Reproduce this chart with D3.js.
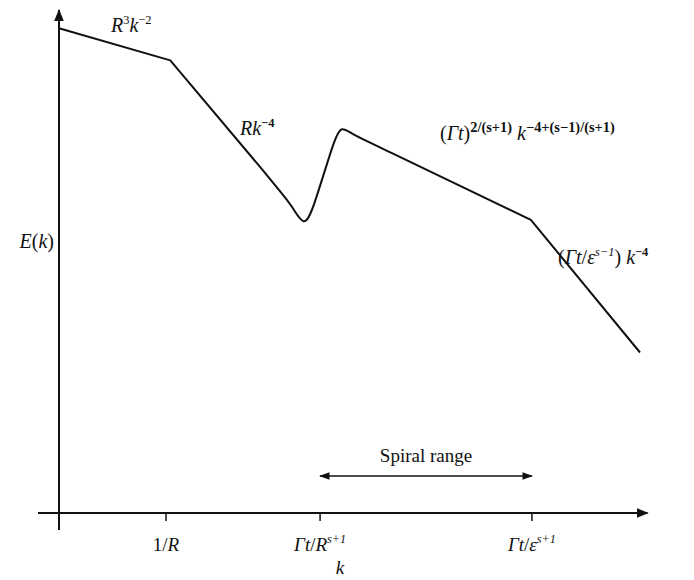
<!DOCTYPE html>
<html>
<head>
<meta charset="utf-8">
<script src="https://cdn.jsdelivr.net/npm/d3@7"></script>
<style>
  body { margin: 0; background: #fff; }
  svg text { font-family: "Liberation Serif", "DejaVu Serif", serif; fill: #111; }
</style>
</head>
<body>
<div id="chart"></div>
<script>
// schematic spectrum, in log units (one unit per decade-ish)
const highK = [0, 1.04, 1.879];
const highE = [4.53, 4.23, 3.234];
// dip between the two ranges, smoothed (B-spline control points)
const dipK = [1.879, 2.028, 2.178, 2.290, 2.374, 2.570, 2.636, 2.720, 2.925, 3.112];
const dipE = [3.234, 3.052, 2.874, 2.664, 2.832, 3.486, 3.617, 3.551, 3.452, 3.363];
const lowK = [3.112, 4.41, 5.43];
const lowE = [3.363, 2.74, 1.50];

const tickK = [1.0, 2.44, 4.42];
// each label is a list of runs: [text, italic, superscript, bold]
const tickLabels = [
    [['1/', false, false], ['R', true, false]],
    [['Γt', true, false], ['/', false, false], ['R', true, false], ['s+1', true, true]],
    [['Γt', true, false], ['/', false, false], ['ε', true, false], ['s+1', true, true]]
];
const spiralK = [2.44, 4.42];

let width = 694,
    height = 580;

let x = d3.scaleLinear().domain([0, 5.5]).range([59, 59 + 5.5 * 107]);
let y = d3.scaleLinear().domain([0, 4.7]).range([513, 513 - 4.7 * 107]);

let svg = d3.select('#chart').append('svg')
    .attr('width', width)
    .attr('height', height);

let defs = svg.append('defs');
defs.append('marker')
    .attr('id', 'head')
    .attr('viewBox', '0 0 10 10')
    .attr('refX', 9).attr('refY', 5)
    .attr('markerWidth', 6).attr('markerHeight', 6)
    .attr('markerUnits', 'strokeWidth')
    .attr('orient', 'auto-start-reverse')
    .append('path')
    .attr('d', 'M0,1 L10,5 L0,9 Z')
    .attr('fill', '#111');
defs.append('marker')
    .attr('id', 'headSmall')
    .attr('viewBox', '0 0 10 10')
    .attr('refX', 9).attr('refY', 5)
    .attr('markerWidth', 7).attr('markerHeight', 7)
    .attr('markerUnits', 'strokeWidth')
    .attr('orient', 'auto-start-reverse')
    .append('path')
    .attr('d', 'M0,1.5 L10,5 L0,8.5 Z')
    .attr('fill', '#111');

// axes
svg.append('line')
    .attr('x1', x(0)).attr('y1', y(0) + 17)
    .attr('x2', x(0)).attr('y2', y(4.7))
    .attr('stroke', '#111').attr('stroke-width', 2)
    .attr('marker-end', 'url(#head)');

svg.append('line')
    .attr('x1', x(0) - 21).attr('y1', y(0))
    .attr('x2', x(5.5)).attr('y2', y(0))
    .attr('stroke', '#111').attr('stroke-width', 2)
    .attr('marker-end', 'url(#head)');

let ticks = svg.append('g').attr('class', 'ticks');
ticks.selectAll('line')
    .data(tickK)
    .join('line')
    .attr('x1', d => x(d)).attr('x2', d => x(d))
    .attr('y1', y(0)).attr('y2', y(0) + 8)
    .attr('stroke', '#111').attr('stroke-width', 1.5);

function richText(sel, runs, size, supScale) {
    let up = false;
    let sc = supScale || 0.68;
    runs.forEach(r => {
        let t = sel.append('tspan')
            .text(r[0])
            .style('font-style', r[1] ? 'italic' : 'normal')
            .style('font-weight', r[3] ? 'bold' : 'normal');
        if (r[2]) {
            t.style('font-size', (size * sc) + 'px');
            if (!up) t.attr('dy', -size * 0.4);
            up = true;
        } else {
            if (up) t.attr('dy', size * 0.4);
            up = false;
        }
    });
}

ticks.selectAll('text')
    .data(tickLabels)
    .join('text')
    .attr('x', (d, i) => x(tickK[i]))
    .attr('y', 551)
    .attr('text-anchor', 'middle')
    .style('font-size', '19px')
    .each(function (d) { richText(d3.select(this), d, 19, 0.64); });

svg.append('text')
    .attr('x', 340).attr('y', 574)
    .attr('text-anchor', 'middle')
    .style('font-size', '19px')
    .style('font-style', 'italic')
    .text('k');

let eLabel = svg.append('text')
    .attr('x', 54).attr('y', 248)
    .attr('text-anchor', 'end')
    .style('font-size', '20px');
richText(eLabel, [['E', true, false], ['(', false, false], ['k', true, false], [')', false, false]], 20);

// spectrum: straight power laws joined by a smooth dip, drawn as one path
let lineFn = d3.line().x(d => x(d[0])).y(d => y(d[1]));
let zipped = (ks, es) => ks.map((k, i) => [k, es[i]]);

let pHigh = lineFn.curve(d3.curveLinear)(zipped(highK, highE));
let pDip = lineFn.curve(d3.curveBasis)(zipped(dipK, dipE)).replace(/^M/, 'L');
let pLow = lineFn.curve(d3.curveLinear)(zipped(lowK, lowE)).replace(/^M/, 'L');

svg.append('path')
    .attr('d', pHigh + pDip + pLow)
    .attr('fill', 'none').attr('stroke', '#111').attr('stroke-width', 2)
    .attr('stroke-linejoin', 'round');

// power-law labels
let l1 = svg.append('text').attr('x', 111).attr('y', 32).style('font-size', '20px');
richText(l1, [['R', true, false], ['3', false, true], ['k', true, false], ['−2', false, true]], 20, 0.62);

let l2 = svg.append('text').attr('x', 240).attr('y', 135).style('font-size', '20px');
richText(l2, [['R', true, false], ['k', true, false], ['−4', false, true, true]], 20, 0.62);

let l3 = svg.append('text').attr('x', 440).attr('y', 140).style('font-size', '20px');
richText(l3, [['(', false, false], ['Γt', true, false], [')', false, false],
    ['2/(s+1)', false, true, true], ['  k', true, false], ['−4+(s−1)/(s+1)', false, true, true]], 20, 0.72);

let l4 = svg.append('text').attr('x', 558).attr('y', 264).style('font-size', '20px');
richText(l4, [['(', false, false], ['Γt', true, false], ['/', false, false], ['ε', true, false],
    ['s−1', true, true], [')  ', false, false], ['k', true, false], ['−4', false, true, true]], 20, 0.62);

// spiral range
svg.append('line')
    .attr('x1', x(spiralK[0])).attr('x2', x(spiralK[1]))
    .attr('y1', 476).attr('y2', 476)
    .attr('stroke', '#111').attr('stroke-width', 1.5)
    .attr('marker-start', 'url(#headSmall)')
    .attr('marker-end', 'url(#headSmall)');

svg.append('text')
    .attr('x', (x(spiralK[0]) + x(spiralK[1])) / 2).attr('y', 462)
    .attr('text-anchor', 'middle')
    .style('font-size', '19px')
    .text('Spiral range');
</script>
</body>
</html>
